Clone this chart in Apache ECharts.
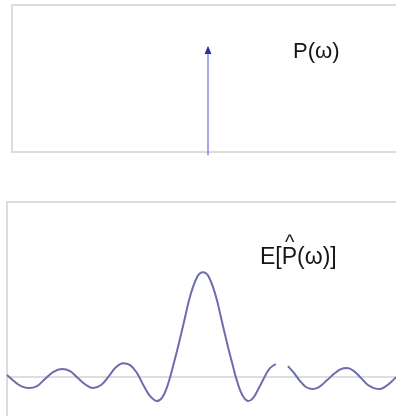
<!DOCTYPE html>
<html>
<head>
<meta charset="utf-8">
<style>
  html, body { margin: 0; padding: 0; background: #ffffff; }
  #chart { width: 396px; height: 416px; }
</style>
<script src="https://cdn.jsdelivr.net/npm/echarts@6/dist/echarts.min.js"></script>
</head>
<body>
<div id="chart"></div>
<script>
// True spectrum: a single spectral line at omega = 0
const lineFreq = 0;
const lineHeight = 1.0;

// Expected periodogram: main lobe plus side lobes (normalised so the peak is 1)
const omega = [
  -6.00, -5.79, -5.57, -5.33, -5.08, -4.84, -4.59, -4.32, -4.07, -3.83,
  -3.58, -3.37, -3.12, -2.88, -2.66, -2.45, -2.23, -2.02, -1.81, -1.62,
  -1.41, -1.25, -1.13, -1.01, -0.92, -0.80, -0.67, -0.55, -0.43, -0.31,
  -0.18, -0.09, 0.00, 0.09, 0.18, 0.31, 0.43, 0.55, 0.67, 0.80,
  0.92, 1.01, 1.13, 1.25, 1.38, 1.53, 1.71, 1.90, 2.05, 2.23,
  2.41,
  2.60, 2.79, 2.97, 3.15, 3.34, 3.55, 3.80, 4.04, 4.22, 4.41,
  4.62, 4.84, 5.05, 5.23, 5.42, 5.60, 5.79, 5.91
];
const expected = [
  0.019, -0.038, -0.086, -0.105, -0.086, -0.019, 0.048, 0.076, 0.057, -0.010,
  -0.076, -0.105, -0.076, 0.010, 0.095, 0.133, 0.114, 0.038, -0.086, -0.181,
  -0.229, -0.195, -0.120, -0.005, 0.100, 0.245, 0.410, 0.570, 0.730, 0.855,
  0.955, 0.990, 1.000, 0.990, 0.955, 0.855, 0.730, 0.570, 0.410, 0.245,
  0.100, -0.005, -0.120, -0.195, -0.229, -0.200, -0.105, 0.010, 0.086, 0.124,
  null,
  0.105, 0.038, -0.038, -0.095, -0.114, -0.095, -0.029, 0.038, 0.076, 0.086,
  0.057, -0.010, -0.076, -0.105, -0.114, -0.086, -0.038, 0.000
];

const labelTrue = 'P(ω)';
const labelEst = 'E[P(ω)]';
const hatMark = '^';

const chart = echarts.init(document.getElementById('chart'), null, { renderer: 'canvas' });

const frameLine = { show: true, onZero: false, lineStyle: { color: '#dcdcdc', width: 2 } };
const hiddenAxis = {
  axisLabel: { show: false },
  axisTick: { show: false },
  splitLine: { show: false }
};
function axis(extra) {
  return Object.assign({ type: 'value' }, hiddenAxis, extra);
}

const option = {
  backgroundColor: '#ffffff',
  animation: false,
  grid: [
    { left: 12, top: 5, width: 392, height: 147, outerBoundsMode: 'none', containLabel: false },
    { left: 7, top: 202, width: 392, height: 217, outerBoundsMode: 'none', containLabel: false }
  ],
  xAxis: [
    // upper panel: baseline and top edge
    axis({ gridIndex: 0, min: -6, max: 6, position: 'bottom', axisLine: frameLine }),
    axis({ gridIndex: 0, min: -6, max: 6, position: 'top', axisLine: frameLine }),
    // lower panel: zero line and top edge
    axis({ gridIndex: 1, min: -6, max: 6,
      axisLine: { show: true, onZero: true, lineStyle: { color: '#dedede', width: 2 } } }),
    axis({ gridIndex: 1, min: -6, max: 6, position: 'top', axisLine: frameLine })
  ],
  yAxis: [
    axis({ gridIndex: 0, min: 0, max: 1.4, position: 'left', axisLine: frameLine }),
    axis({ gridIndex: 1, min: -0.4, max: 1.67, position: 'left', axisLine: frameLine })
  ],
  series: [
    {
      type: 'line',
      xAxisIndex: 0,
      yAxisIndex: 0,
      clip: false,
      data: [
        { value: [lineFreq, -0.03], symbol: 'none' },
        { value: [lineFreq, lineHeight], symbol: 'triangle', symbolSize: [7, 8],
          symbolOffset: [0, 3], itemStyle: { color: '#2e2ea6' } }
      ],
      lineStyle: { color: '#8a8ae4', width: 1.5 },
      itemStyle: { color: '#2e2ea6' },
      z: 3
    },
    {
      type: 'line',
      xAxisIndex: 2,
      yAxisIndex: 1,
      smooth: 0.4,
      connectNulls: false,
      showSymbol: false,
      symbol: 'none',
      data: omega.map((w, i) => [w, expected[i]]),
      lineStyle: { color: '#6c6cae', width: 2 },
      z: 3
    }
  ],
  graphic: [
    { type: 'text', left: 293, top: 41,
      style: { text: labelTrue, font: '22px "Liberation Sans", Arial, sans-serif', fill: '#151515' } },
    { type: 'text', left: 260, top: 246,
      style: { text: labelEst, font: '23px "Liberation Sans", Arial, sans-serif', fill: '#151515' } },
    { type: 'text', left: 285, top: 233,
      style: { text: hatMark, font: '20px "Liberation Sans", Arial, sans-serif', fill: '#151515' } }
  ]
};

chart.setOption(option);
</script>
</body>
</html>
